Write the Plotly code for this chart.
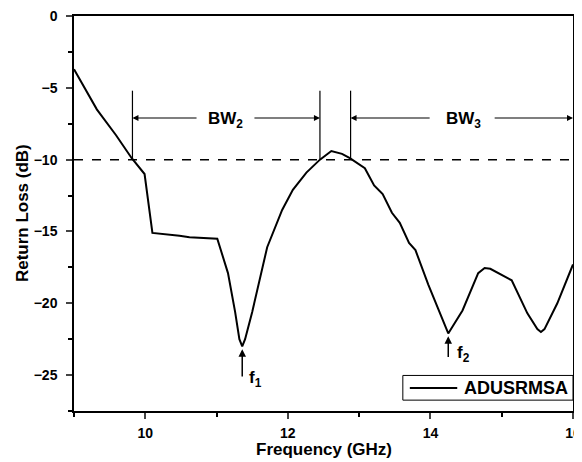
import plotly.graph_objects as go

# ---- data ----
freq = [9.0, 9.32, 9.59, 9.81, 9.99, 10.10, 10.48, 10.62, 11.01, 11.16, 11.26, 11.32, 11.36, 11.40,
        11.50, 11.71, 11.92, 12.07, 12.26, 12.45, 12.61, 12.76, 12.87, 13.08, 13.21, 13.33, 13.46,
        13.57, 13.70, 13.79, 13.97, 14.10, 14.20, 14.25, 14.30, 14.45, 14.67, 14.76, 14.84, 14.98,
        15.14, 15.36, 15.50, 15.55, 15.60, 15.78, 16.0]
return_loss = [-3.7, -6.5, -8.3, -9.9, -11.0, -15.1, -15.3, -15.4, -15.5, -17.9, -20.6, -22.5, -23.0, -22.5,
               -20.6, -16.1, -13.5, -12.1, -10.9, -10.0, -9.4, -9.6, -9.9, -10.6, -11.8, -12.4, -13.7,
               -14.4, -15.8, -16.3, -18.7, -20.3, -21.6, -22.1, -21.7, -20.5, -17.9, -17.55, -17.6, -18.0,
               -18.4, -20.7, -21.8, -22.0, -21.8, -20.0, -17.3]
series_name = "ADUSRMSA"
threshold = -10
bw_edges = [9.82, 12.45, 12.88, 16.0]
bw_level = -7.1
bw_labels = ["BW<sub>2</sub>", "BW<sub>3</sub>"]
bw_label_x = [11.13, 14.46]
bw_gap = [(10.74, 11.51), (14.01, 14.88)]
res_freq = [11.36, 14.25]
res_arrow = [(-25.2, -23.2), (-23.85, -22.3)]
res_labels = ["f<sub>1</sub>", "f<sub>2</sub>"]
res_label_pos = [(11.55, -25.3), (14.47, -23.55)]
x_ticks = [10, 12, 14, 16]
x_minor = [9, 11, 13, 15]
y_ticks = [0, -5, -10, -15, -20, -25]
y_minor = [-2.5, -7.5, -12.5, -17.5, -22.5, -27.5]
x_range = [9, 16]
y_range = [-27.5, 0]

FONT = "Liberation Sans, Arial, Helvetica, sans-serif"

fig = go.Figure()
fig.add_trace(go.Scatter(x=freq, y=return_loss, mode="lines", name=series_name,
                         line=dict(color="black", width=2), showlegend=False))

shapes = []
shapes.append(dict(type="line", xref="x", yref="y", x0=x_range[0], x1=x_range[1],
                   y0=threshold, y1=threshold, line=dict(color="black", width=1.5, dash="dash")))
for xe in bw_edges[:3]:
    shapes.append(dict(type="line", xref="x", yref="y", x0=xe, x1=xe, y0=-5.2, y1=threshold,
                       line=dict(color="black", width=1.2)))
# legend box (drawn manually to match the reference size)
shapes.append(dict(type="rect", xref="paper", yref="paper", x0=0.659, x1=1.0, y0=0.0275, y1=0.09,
                   line=dict(color="black", width=1), fillcolor="white", layer="above"))
shapes.append(dict(type="line", xref="paper", yref="paper", x0=0.673, x1=0.768, y0=0.0585, y1=0.0585,
                   line=dict(color="black", width=2), layer="above"))

annotations = []
pairs = [(bw_edges[0], bw_edges[1]), (bw_edges[2], bw_edges[3])]
for (l, r), (g0, g1), lab, lx in zip(pairs, bw_gap, bw_labels, bw_label_x):
    for tip, tail in ((l, g0), (r, g1)):
        annotations.append(dict(x=tip, y=bw_level, ax=tail, ay=bw_level, xref="x", yref="y",
                                axref="x", ayref="y", text="", showarrow=True, arrowhead=2,
                                arrowsize=1, arrowwidth=1.2, arrowcolor="black", standoff=0))
    annotations.append(dict(x=lx, y=bw_level, xref="x", yref="y", text="<b>" + lab + "</b>",
                            showarrow=False, font=dict(family=FONT, size=17, color="black"), yshift=-2))
for fx, (y0, y1), lab, (lx, ly) in zip(res_freq, res_arrow, res_labels, res_label_pos):
    annotations.append(dict(x=fx, y=y1, ax=fx, ay=y0, xref="x", yref="y", axref="x", ayref="y",
                            text="", showarrow=True, arrowhead=2, arrowsize=1, arrowwidth=1.5,
                            arrowcolor="black", standoff=0))
    annotations.append(dict(x=lx, y=ly, xref="x", yref="y", text="<b>" + lab + "</b>", showarrow=False,
                            font=dict(family=FONT, size=17, color="black")))
annotations.append(dict(x=0.778, y=0.0585, xref="paper", yref="paper", xanchor="left", yanchor="middle",
                        text="<b>" + series_name + "</b>", showarrow=False,
                        font=dict(family=FONT, size=18, color="black")))
annotations.append(dict(x=0.5, y=-0.098, xref="paper", yref="paper", xanchor="center", yanchor="middle",
                        text="<b>Frequency (GHz)</b>", showarrow=False,
                        font=dict(family=FONT, size=17, color="black")))
annotations.append(dict(x=-0.103, y=0.5, xref="paper", yref="paper", xanchor="center", yanchor="middle",
                        text="<b>Return Loss (dB)</b>", showarrow=False, textangle=-90,
                        font=dict(family=FONT, size=17, color="black")))

# the page body adds an 8px offset, so the figure is 8px smaller than the window
fig.update_layout(
    width=574, height=454,
    margin=dict(l=66, r=9, t=8, b=51),
    paper_bgcolor="white", plot_bgcolor="white",
    font=dict(family=FONT, color="black"),
    shapes=shapes, annotations=annotations,
    showlegend=False,
)
fig.update_xaxes(range=x_range, tickvals=x_ticks, ticks="outside", ticklen=6, automargin=False,
                 tickwidth=1.5, linecolor="black", linewidth=1.5, mirror=True, showgrid=False,
                 zeroline=False, tickfont=dict(family=FONT, size=14, weight="bold"), ticklabelstandoff=2,
                 ticklabeloverflow="allow",
                 minor=dict(tickvals=x_minor, ticks="outside", ticklen=4, tickcolor="black"))
fig.update_yaxes(range=y_range, tickvals=y_ticks, ticks="outside", ticklen=6, automargin=False,
                 tickwidth=1.5, linecolor="black", linewidth=1.5, mirror=True, showgrid=False,
                 zeroline=False, tickfont=dict(family=FONT, size=14, weight="bold"), ticklabelstandoff=6,
                 ticklabeloverflow="allow",
                 minor=dict(tickvals=y_minor, ticks="outside", ticklen=4, tickcolor="black"))

fig.write_html("out.html")
